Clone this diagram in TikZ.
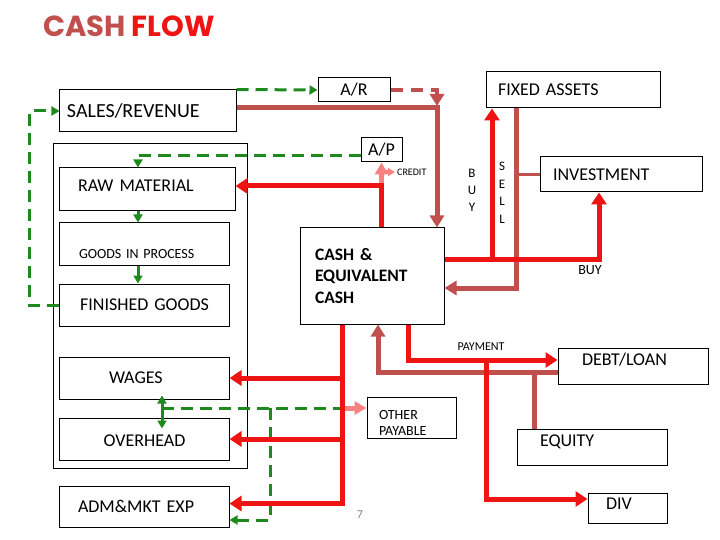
\documentclass[tikz,border=0pt]{standalone}
\usepackage{fontspec}
\setmainfont{Carlito}
\newfontfamily\titlefont{Poppins}
\usetikzlibrary{positioning,arrows.meta}

\definecolor{cfbrown}{RGB}{192,80,77}
\definecolor{cfred}{RGB}{238,20,20}
\definecolor{cfpink}{RGB}{248,130,130}
\definecolor{cfgreen}{RGB}{30,138,30}

\tikzset{
  box/.style={draw, line width=1bp, inner ysep=0pt, align=left,
    font=\fontsize{18bp}{21.5bp}\selectfont, text height=11.4bp, text depth=0pt},
  smalltext/.style={font=\fontsize{14bp}{16.5bp}\selectfont},
  flowtag/.style={inner sep=0pt, font=\fontsize{12bp}{14bp}\selectfont},
  cashline/.style={draw=cfred, line width=5bp, -{Triangle[length=12bp,width=15bp]}},
  backline/.style={draw=cfbrown, line width=5bp, -{Triangle[length=12bp,width=14bp]}},
  credline/.style={draw=cfpink, line width=5bp, -{Triangle[length=12bp,width=13bp]}},
  goodsline/.style={draw=cfgreen, line width=3bp, dash pattern=on 12bp off 7bp,
    -{Triangle[length=8bp,width=9bp]}}
}

\begin{document}
\begin{tikzpicture}[x=1bp, y=-1bp]
  \useasboundingbox (0,0) rectangle (720,540);

  % Define nodes
  \node[anchor=west, inner sep=0pt, font=\titlefont\bfseries\fontsize{29bp}{32bp}\selectfont]
    (title) at (43,26) {\textcolor{cfbrown}{CASH} \textcolor{cfred}{FLOW}};
  \node[draw, line width=1bp, minimum width=193bp, minimum height=324bp] (stock) at (150.5,306) {};

  \node[box, font=\fontsize{20bp}{24bp}\selectfont, text height=12.6bp, minimum height=42bp, inner xsep=7bp, text width=162bp]
    (sales) at (148,111) {SALES/REVENUE};
  \node[box, align=center, minimum height=24bp, inner xsep=0pt, text width=72bp] (ar) at (354,90) {A/R};
  \node[box, minimum height=36bp, inner xsep=12bp, text width=150bp] (fixed) at (573,90) {FIXED ASSETS};
  \node[box, align=center, minimum height=24bp, inner xsep=0pt, text width=41bp] (ap) at (381.5,150) {A/P};

  \node[box, minimum height=43bp, inner xsep=18bp, text width=139bp, text depth=8bp] (raw) at (147.5,189.5) {RAW MATERIAL};
  \node[box, smalltext, minimum height=42bp, inner xsep=19bp, text width=131bp, text height=28.8bp,
    below=11bp of raw.south west, anchor=north west] (gip) {GOODS IN PROCESS};
  \node[box, align=center, minimum height=42bp, inner xsep=0pt, text width=169bp,
    below=18bp of gip.south west, anchor=north west] (fin) {FINISHED GOODS};
  \node[box, minimum height=42bp, inner xsep=49bp, text width=71bp,
    below=30bp of fin.south west, anchor=north west] (wages) {WAGES};
  \node[box, align=center, minimum height=42bp, inner xsep=0pt, text width=169bp, text height=15.4bp,
    below=18bp of wages.south west, anchor=north west] (overhead) {OVERHEAD};
  \node[box, minimum height=41bp, inner xsep=18bp, text width=133bp,
    below=25bp of overhead.south west, anchor=north west] (adm) {ADM\&MKT EXP};

  \node[box, font=\bfseries\fontsize{17.5bp}{21.5bp}\selectfont, minimum height=96bp, inner xsep=15bp, text width=114bp, text depth=43bp]
    (cash) at (372,276) {CASH \&\\EQUIVALENT\\CASH};
  \node[box, minimum height=35bp, inner xsep=13bp, text width=136bp] (inv) at (621,174.5) {INVESTMENT};
  \node[box, smalltext, minimum height=41bp, inner xsep=12bp, text width=65bp, text height=20.2bp, text depth=16.5bp]
    (other) at (411.5,417.5) {OTHER\\PAYABLE};
  \node[box, minimum height=36bp, inner xsep=24bp, text width=102bp, text depth=12bp] (debt) at (633,366) {DEBT/LOAN};
  \node[box, minimum height=36bp, inner xsep=23bp, text width=104bp, text depth=12bp] (equity) at (592,447) {EQUITY};
  \node[box, minimum height=30bp, inner xsep=18bp, text width=43bp, text depth=8bp,
    below=27bp of equity.south east, anchor=north east] (div) {DIV};

  \node[flowtag, anchor=west, font=\fontsize{10bp}{12bp}\selectfont] (credit) at (397,172) {CREDIT};
  \node[flowtag, align=center, font=\fontsize{13bp}{17bp}\selectfont] (buyv) at (472,190) {B\\U\\Y};
  \node[flowtag, align=center, font=\fontsize{13bp}{17.5bp}\selectfont] (sellv) at (502,193) {S\\E\\L\\L};
  \node[flowtag, font=\fontsize{14bp}{16bp}\selectfont] (buylab) at (590,270) {BUY};
  \node[flowtag] (paylab) at (481,347) {PAYMENT};
  \node[flowtag, text=gray] (pageno) at (360,515) {7};

  % Junctions
  \coordinate (chain) at (138,0);
  \coordinate (link) at (162,408);
  \coordinate (drop) at (270,0);
  \coordinate (payx) at (342,0);
  \coordinate (repay) at (378,0);
  \coordinate (debtx) at (408,0);
  \coordinate (inx) at (437,0);
  \coordinate (divx) at (486,360);
  \coordinate (buyx) at (492,260);
  \coordinate (sell) at (516,0);
  \coordinate (eqx) at (534,372);

  % Connect the nodes
  \draw[goodsline] (sales.north east) -- (ar.west);
  \draw[goodsline] (fin.west) -- ++(-30,0) |- (sales.west);
  \draw[goodsline] ([yshift=-6bp]ap.west) -| (chain |- raw.north);
  \draw[goodsline] (chain |- raw.south) -- (chain |- gip.north);
  \draw[goodsline] (chain |- gip.south) -- (chain |- fin.north);
  \draw[goodsline, solid, {Triangle[length=8bp,width=9bp]}-{Triangle[length=8bp,width=9bp]},
    shorten <=-4bp, shorten >=-11bp] (link |- wages.south) -- (link |- overhead.north);
  \draw[goodsline, -] (link) -- (link -| payx);
  \draw[goodsline] (link -| drop) |- ([yshift=-13.5bp]adm.east);
  \draw[credline] (link -| payx) -- (link -| other.west);

  \draw[backline] ([yshift=3bp]sales.east) -| (inx |- cash.north);
  \draw[backline, line width=3.5bp, dash pattern=on 12bp off 8bp] (ar.east) -| ([yshift=5bp]inx |- sales.east);
  \draw[backline] (sell |- fixed.south) |- ([yshift=-12bp]cash.east);
  \draw[backline, line width=2.5bp, -] (inv.west) -- (sell |- inv.west);
  \draw[backline] ([yshift=-6bp]debt.west) -| (repay |- cash.south);
  \draw[backline, -] (eqx) -- (eqx |- equity.north);

  \draw[credline] ([yshift=3.5bp]ap.south |- raw.east) -- (ap.south);
  \draw[credline, line width=3bp, -{Triangle[length=7bp,width=8bp]}, shorten >=2bp] (ap.south |- credit.west) -- (credit.west);
  \draw[cashline] (ap.south |- cash.north) |- ([yshift=3.5bp]raw.east);
  \draw[cashline] ([yshift=16bp]cash.east) -| ([xshift=-22bp]inv.south);
  \draw[cashline] (buyx) -- (buyx |- fixed.south);
  \draw[cashline] (payx |- cash.south) |- ([yshift=3bp]adm.east);
  \draw[cashline] (payx |- wages.east) -- (wages.east);
  \draw[cashline] (payx |- overhead.east) -- (overhead.east);
  \draw[cashline] (debtx |- cash.south) |- ([yshift=6bp]debt.west);
  \draw[cashline] (divx) |- ([yshift=9bp]div.west);

\end{tikzpicture}
\end{document}
